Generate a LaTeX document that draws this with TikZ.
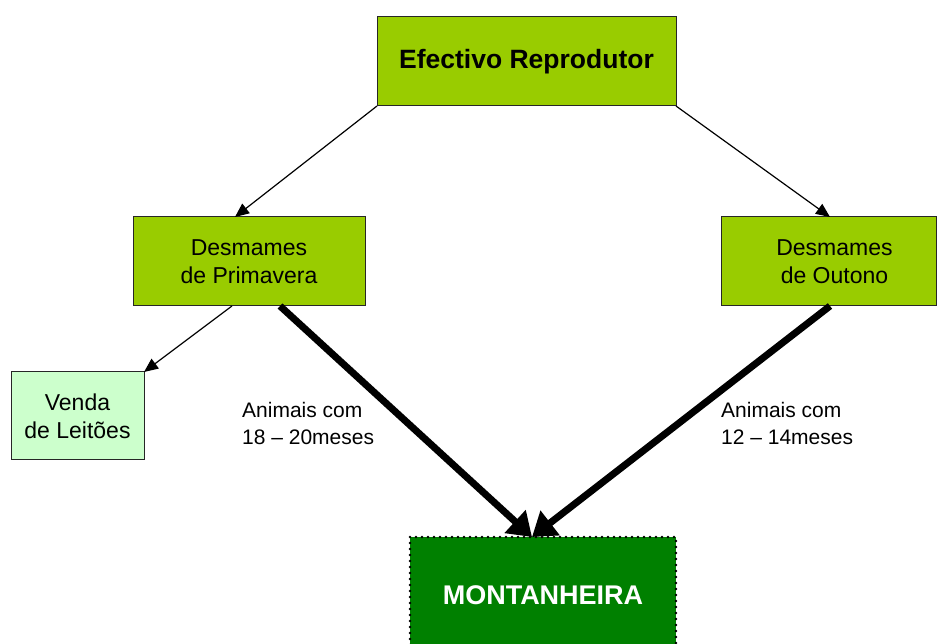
\documentclass[tikz,border=0pt]{standalone}
\usepackage{fontspec}
\setmainfont{Liberation Sans}
\usepackage{tikz}
\usepackage{xcolor}
\usetikzlibrary{arrows.meta}
\definecolor{limegreen}{HTML}{99CC00}
\definecolor{palegreen}{HTML}{CCFFCC}
\definecolor{darkgreen}{HTML}{008000}
\colorlet{edgecolor}{black!85}
\tikzstyle{stagebox} = [
    draw=edgecolor,
    fill=limegreen,
    line width=1pt,
    rectangle,
    inner sep=0pt,
    outer sep=0pt,
    align=center,
    font=\fontsize{23}{28}\selectfont
    ]
\tikzstyle{salebox} = [
    stagebox,
    fill=palegreen
    ]
\tikzstyle{thinarrow} = [
    line width=1.2pt,
    -{Triangle[length=14pt,width=12pt]}
    ]
\tikzstyle{thickarrow} = [
    line width=7pt,
    -{Triangle[length=23pt,width=30pt]}
    ]
\tikzstyle{agelabel} = [
    anchor=west,
    inner sep=0pt,
    align=left,
    font=\fontsize{21}{27}\selectfont
    ]

\begin{document}
\begin{tikzpicture}[x=1pt,y=-1pt]
\useasboundingbox (0,0) rectangle (938,644);
\clip (0,0) rectangle (938,644);

\node [stagebox, minimum width=299pt, minimum height=89pt,
    font=\fontsize{26.5}{30}\selectfont\bfseries] (efectivo) at (526.5,61.5)
    {Efectivo Reprodutor};
\node [stagebox, minimum width=232pt, minimum height=89pt] (primavera) at (249,261.5)
    {Desmames\\de Primavera};
\node [stagebox, minimum width=215pt, minimum height=89pt] (outono) at (828.5,261.5)
    {\hspace*{12pt}Desmames\\\hspace*{12pt}de Outono};
\node [salebox, minimum width=133pt, minimum height=88pt] (venda) at (77.5,416)
    {Venda\\de Leit\~oes};
\node [stagebox, draw=black, fill=darkgreen, text=white, minimum width=266pt, minimum height=116pt,
    line width=2.6pt, dash pattern=on 0pt off 6pt, line cap=round,
    font=\fontsize{27}{30}\selectfont\bfseries] (montanheira) at (543,595)
    {MONTANHEIRA};

% ligacoes
\draw [thinarrow] (efectivo.south west) -- ([xshift=-14pt]primavera.north);
\draw [thinarrow] (efectivo.south east) -- ([xshift=1.5pt]outono.north);
\draw [thinarrow] ([xshift=-17pt]primavera.south) -- (venda.north east);
\draw [thickarrow] ([xshift=31pt]primavera.south) -- ([xshift=-11pt]montanheira.north);
\draw [thickarrow] ([xshift=1.5pt]outono.south) -- ([xshift=-11pt]montanheira.north);

\node [agelabel] (idadeprim) at (242,423) {Animais com\\18 -- 20meses};
\node [agelabel] (idadeout) at (721,423) {Animais com\\12 -- 14meses};
\end{tikzpicture}
\end{document}
